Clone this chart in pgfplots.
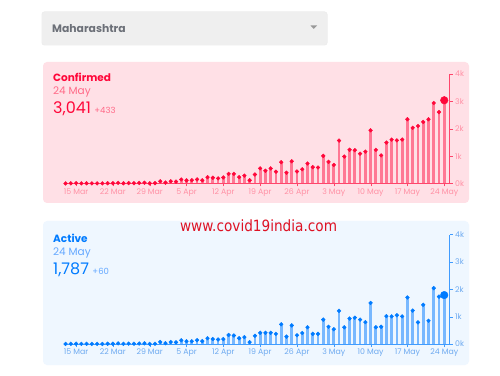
\documentclass[border=0pt]{standalone}
\usepackage{pgfplots}
\pgfplotsset{compat=1.18}
\usepackage{pgfplotstable}
\usepackage{graphicx}
\usepackage{fontspec}
\setmainfont{Poppins}
\newfontfamily\wmfont{DejaVu Sans}
\definecolor{conf}{RGB}{255,7,58}
\definecolor{confbg}{RGB}{255,224,230}
\definecolor{confstem}{RGB}{255,120,148}
\definecolor{conflight}{RGB}{255,105,135}
\definecolor{conftick}{RGB}{255,145,165}
\definecolor{act}{RGB}{0,123,255}
\definecolor{actbg}{RGB}{239,247,255}
\definecolor{actstem}{RGB}{120,184,255}
\definecolor{actlight}{RGB}{100,168,255}
\definecolor{acttick}{RGB}{110,170,240}
\definecolor{dropbg}{RGB}{239,239,239}
\definecolor{droptext}{RGB}{108,112,120}
\definecolor{wm}{RGB}{222,18,36}

\pgfplotstableread{
d c a
-2 3 3
-1 5 5
0 14 12
1 5 5
2 7 7
3 3 3
4 4 4
5 3 2
6 11 10
7 10 9
8 23 22
9 8 6
10 15 14
11 12 10
12 21 17
13 28 25
14 6 4
15 13 10
16 82 75
17 33 30
18 81 75
19 67 60
20 145 135
21 113 100
22 120 100
23 150 140
24 117 105
25 229 210
26 210 180
27 187 165
28 221 180
29 350 330
30 352 310
31 232 210
32 286 250
33 118 70
34 328 300
35 552 410
36 466 410
37 552 410
38 431 370
39 778 720
40 394 270
41 811 680
42 440 320
43 522 400
44 729 610
45 597 370
46 583 370
47 1008 890
48 790 630
49 678 540
50 1567 1210
51 984 610
52 1233 930
53 1216 960
54 1089 890
55 1165 800
56 1943 1500
57 1230 610
58 1026 630
59 1495 1020
60 1602 1010
61 1576 1050
62 1606 1010
63 2347 1700
64 2033 1220
65 2100 790
66 2250 1430
67 2345 850
68 2940 2040
69 2608 1730
70 3041 1787
}\data

\pgfplotsset{
  panel/.style={
    scale only axis, width=385pt, height=109.5pt,
    anchor=south west,
    xmin=-2.2, xmax=71, ymin=0, ymax=4000,
    axis x line*=bottom, axis y line*=right,
    xtick={0,7,...,70},
    xticklabels={15 Mar,22 Mar,29 Mar,5 Apr,12 Apr,19 Apr,26 Apr,3 May,10 May,17 May,24 May},
    ytick={0,1000,2000,3000,4000},
    yticklabels={0k,1k,2k,3k,4k},
    tick align=outside, major tick length=3pt,
    ticklabel style={font=\fontsize{7.8}{8}\selectfont},
    xticklabel style={inner sep=2pt},
    yticklabel style={inner sep=2.5pt},
    clip=false,
  }
}

\begin{document}
\begin{tikzpicture}
\begin{scope}[x=1pt,y=1pt]
\useasboundingbox (0,0) rectangle (500,375);
\fill[white] (0,0) rectangle (500,375);
% dropdown
\fill[black!7, rounded corners=3pt] (41.5,329.5) rectangle (327.5,363.5);
\fill[dropbg, rounded corners=3pt] (42,330) rectangle (327,363);
\node[anchor=west, inner sep=0, text=droptext, font=\bfseries\fontsize{10.8}{11}\selectfont] at (52,346.5) {Maharashtra};
\fill[gray!80] (310.5,349.5) -- (317,349.5) -- (313.75,346) -- cycle;
% panels
\fill[confbg, rounded corners=4pt] (43,172) rectangle (469,313);
\fill[actbg, rounded corners=4pt] (43,10) rectangle (469,154);
% confirmed text
\node[anchor=west, inner sep=0, text=conf, font=\bfseries\fontsize{10.5}{11}\selectfont] at (53,297.5) {Confirmed};
\node[anchor=west, inner sep=0, text=conflight, font=\fontsize{10.5}{11}\selectfont] at (53,283) {24 May};
\node[anchor=base west, inner sep=0, text=conf, font=\fontsize{16}{16}\selectfont] (cn) at (53,261) {3,041};
\node[anchor=base west, inner sep=0, text=conflight, font=\fontsize{8.5}{9}\selectfont] at ([xshift=3pt]cn.base east) {+433};
% active text
\node[anchor=west, inner sep=0, text=act, font=\bfseries\fontsize{10.5}{11}\selectfont] at (53,136.5) {Active};
\node[anchor=west, inner sep=0, text=actlight, font=\fontsize{10.5}{11}\selectfont] at (53,122.3) {24 May};
\node[anchor=base west, inner sep=0, text=act, font=\fontsize{16}{16}\selectfont] (an) at (53,100.5) {1,787};
\node[anchor=base west, inner sep=0, text=actlight, font=\fontsize{8.5}{9}\selectfont] at ([xshift=3pt]an.base east) {+60};
\end{scope}

\begin{axis}[panel, at={(64.5pt,191.5pt)},
  axis line style={conf!75}, tick style={conf!75},
  ticklabel style={text=conftick}]
\addplot[ycomb, draw=confstem, line width=2.8pt] table[x=d,y=c]{\data};
\addplot[only marks, mark=*, mark size=1.9pt, conf] table[x=d,y=c]{\data};
\addplot[only marks, mark=*, mark size=3.8pt, conf] coordinates {(70,3041)};
\end{axis}

\begin{axis}[panel, at={(64.5pt,31pt)},
  axis line style={act!75}, tick style={act!75},
  ticklabel style={text=acttick}]
\addplot[ycomb, draw=actstem, line width=2.8pt] table[x=d,y=a]{\data};
\addplot[only marks, mark=*, mark size=1.9pt, act] table[x=d,y=a]{\data};
\addplot[only marks, mark=*, mark size=3.8pt, act] coordinates {(70,1787)};
\end{axis}

% watermark
\node[inner sep=0, text=wm] at (258.5pt,149pt) {\scalebox{0.88}[1]{\wmfont\fontsize{15.5}{16}\selectfont www.covid19india.com}};
\end{tikzpicture}
\end{document}
